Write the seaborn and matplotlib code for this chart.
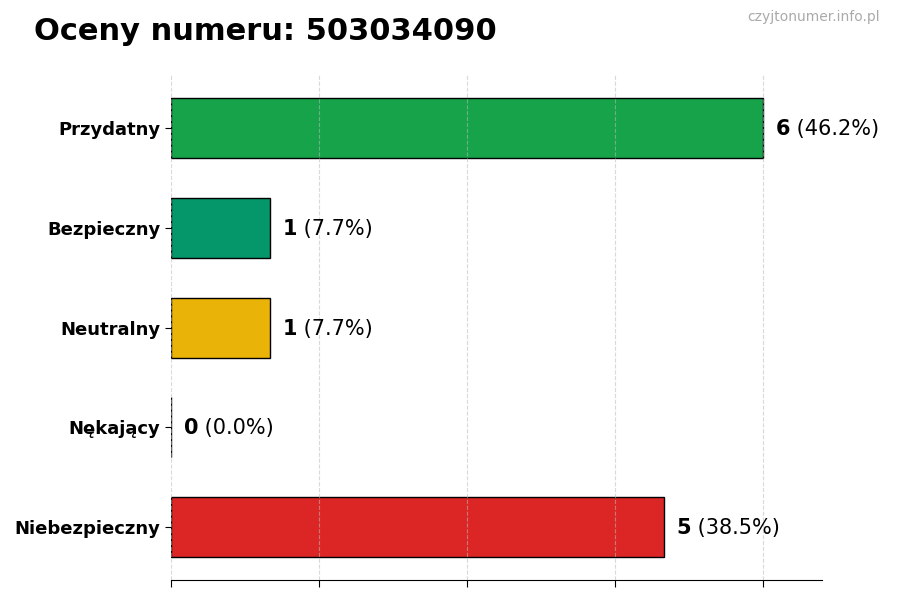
import seaborn as sns
import matplotlib.pyplot as plt

categories = ["Przydatny", "Bezpieczny", "Neutralny", "Nękający", "Niebezpieczny"]
counts = [6, 1, 1, 0, 5]
percents = [46.2, 7.7, 7.7, 0.0, 38.5]
colors = ["#16a34a", "#059669", "#eab308", "#6b7280", "#dc2626"]
xticks = [0, 1.5, 3, 4.5, 6]

sns.set_style("white")
plt.rcParams['font.family'] = ['DejaVu Sans']
plt.rcParams['text.color'] = 'black'
plt.rcParams['ytick.color'] = 'black'
plt.rcParams['xtick.color'] = 'black'

fig = plt.figure(figsize=(9, 6), dpi=100)
ax = fig.add_axes([0.19, 0.033, 0.723, 0.842])

sns.barplot(x=counts, y=categories, hue=categories, palette=colors, orient="h",
            width=0.6, saturation=1, edgecolor="black", linewidth=1, legend=False, ax=ax)

ax.set_xlim(0, max(counts) * 1.1)
ax.set_ylim(4.53, -0.53)
ax.set_xticks(xticks)
ax.set_xticklabels([])
ax.set_xlabel("")
ax.set_ylabel("")
ax.set_axisbelow(False)
# grid sits on top of the bars, faint
ax.grid(axis="x", linestyle="--", color="#bbbbbb", linewidth=0.8, alpha=0.55)
ax.grid(axis="y", visible=False)
for s in ["top", "right", "left"]:
    ax.spines[s].set_visible(False)
ax.spines["bottom"].set_color("black")
ax.tick_params(axis="x", bottom=True, length=5, color="black")
ax.tick_params(axis="y", left=True, length=4, color="black", labelcolor="black")
for lbl in ax.get_yticklabels():
    lbl.set_fontweight("bold")
    lbl.set_fontsize(13)

for i, (c, p) in enumerate(zip(counts, percents)):
    t = ax.text(c + 0.13, i + 0.01, str(c), fontsize=15, fontweight="bold", va="center",
                ha="left", color="black")
    ax.annotate(f" ({p:.1f}%)", xy=(1, 0.5), xycoords=t, fontsize=15,
                va="center", ha="left", color="black")

fig.text(0.038, 0.948, "Oceny numeru: 503034090", fontsize=22, fontweight="bold",
         va="center", ha="left", color="black")
fig.text(0.978, 0.972, "czyjtonumer.info.pl", fontsize=10, color="#aaaaaa",
         va="center", ha="right")

fig.savefig("out.png", dpi=100)
